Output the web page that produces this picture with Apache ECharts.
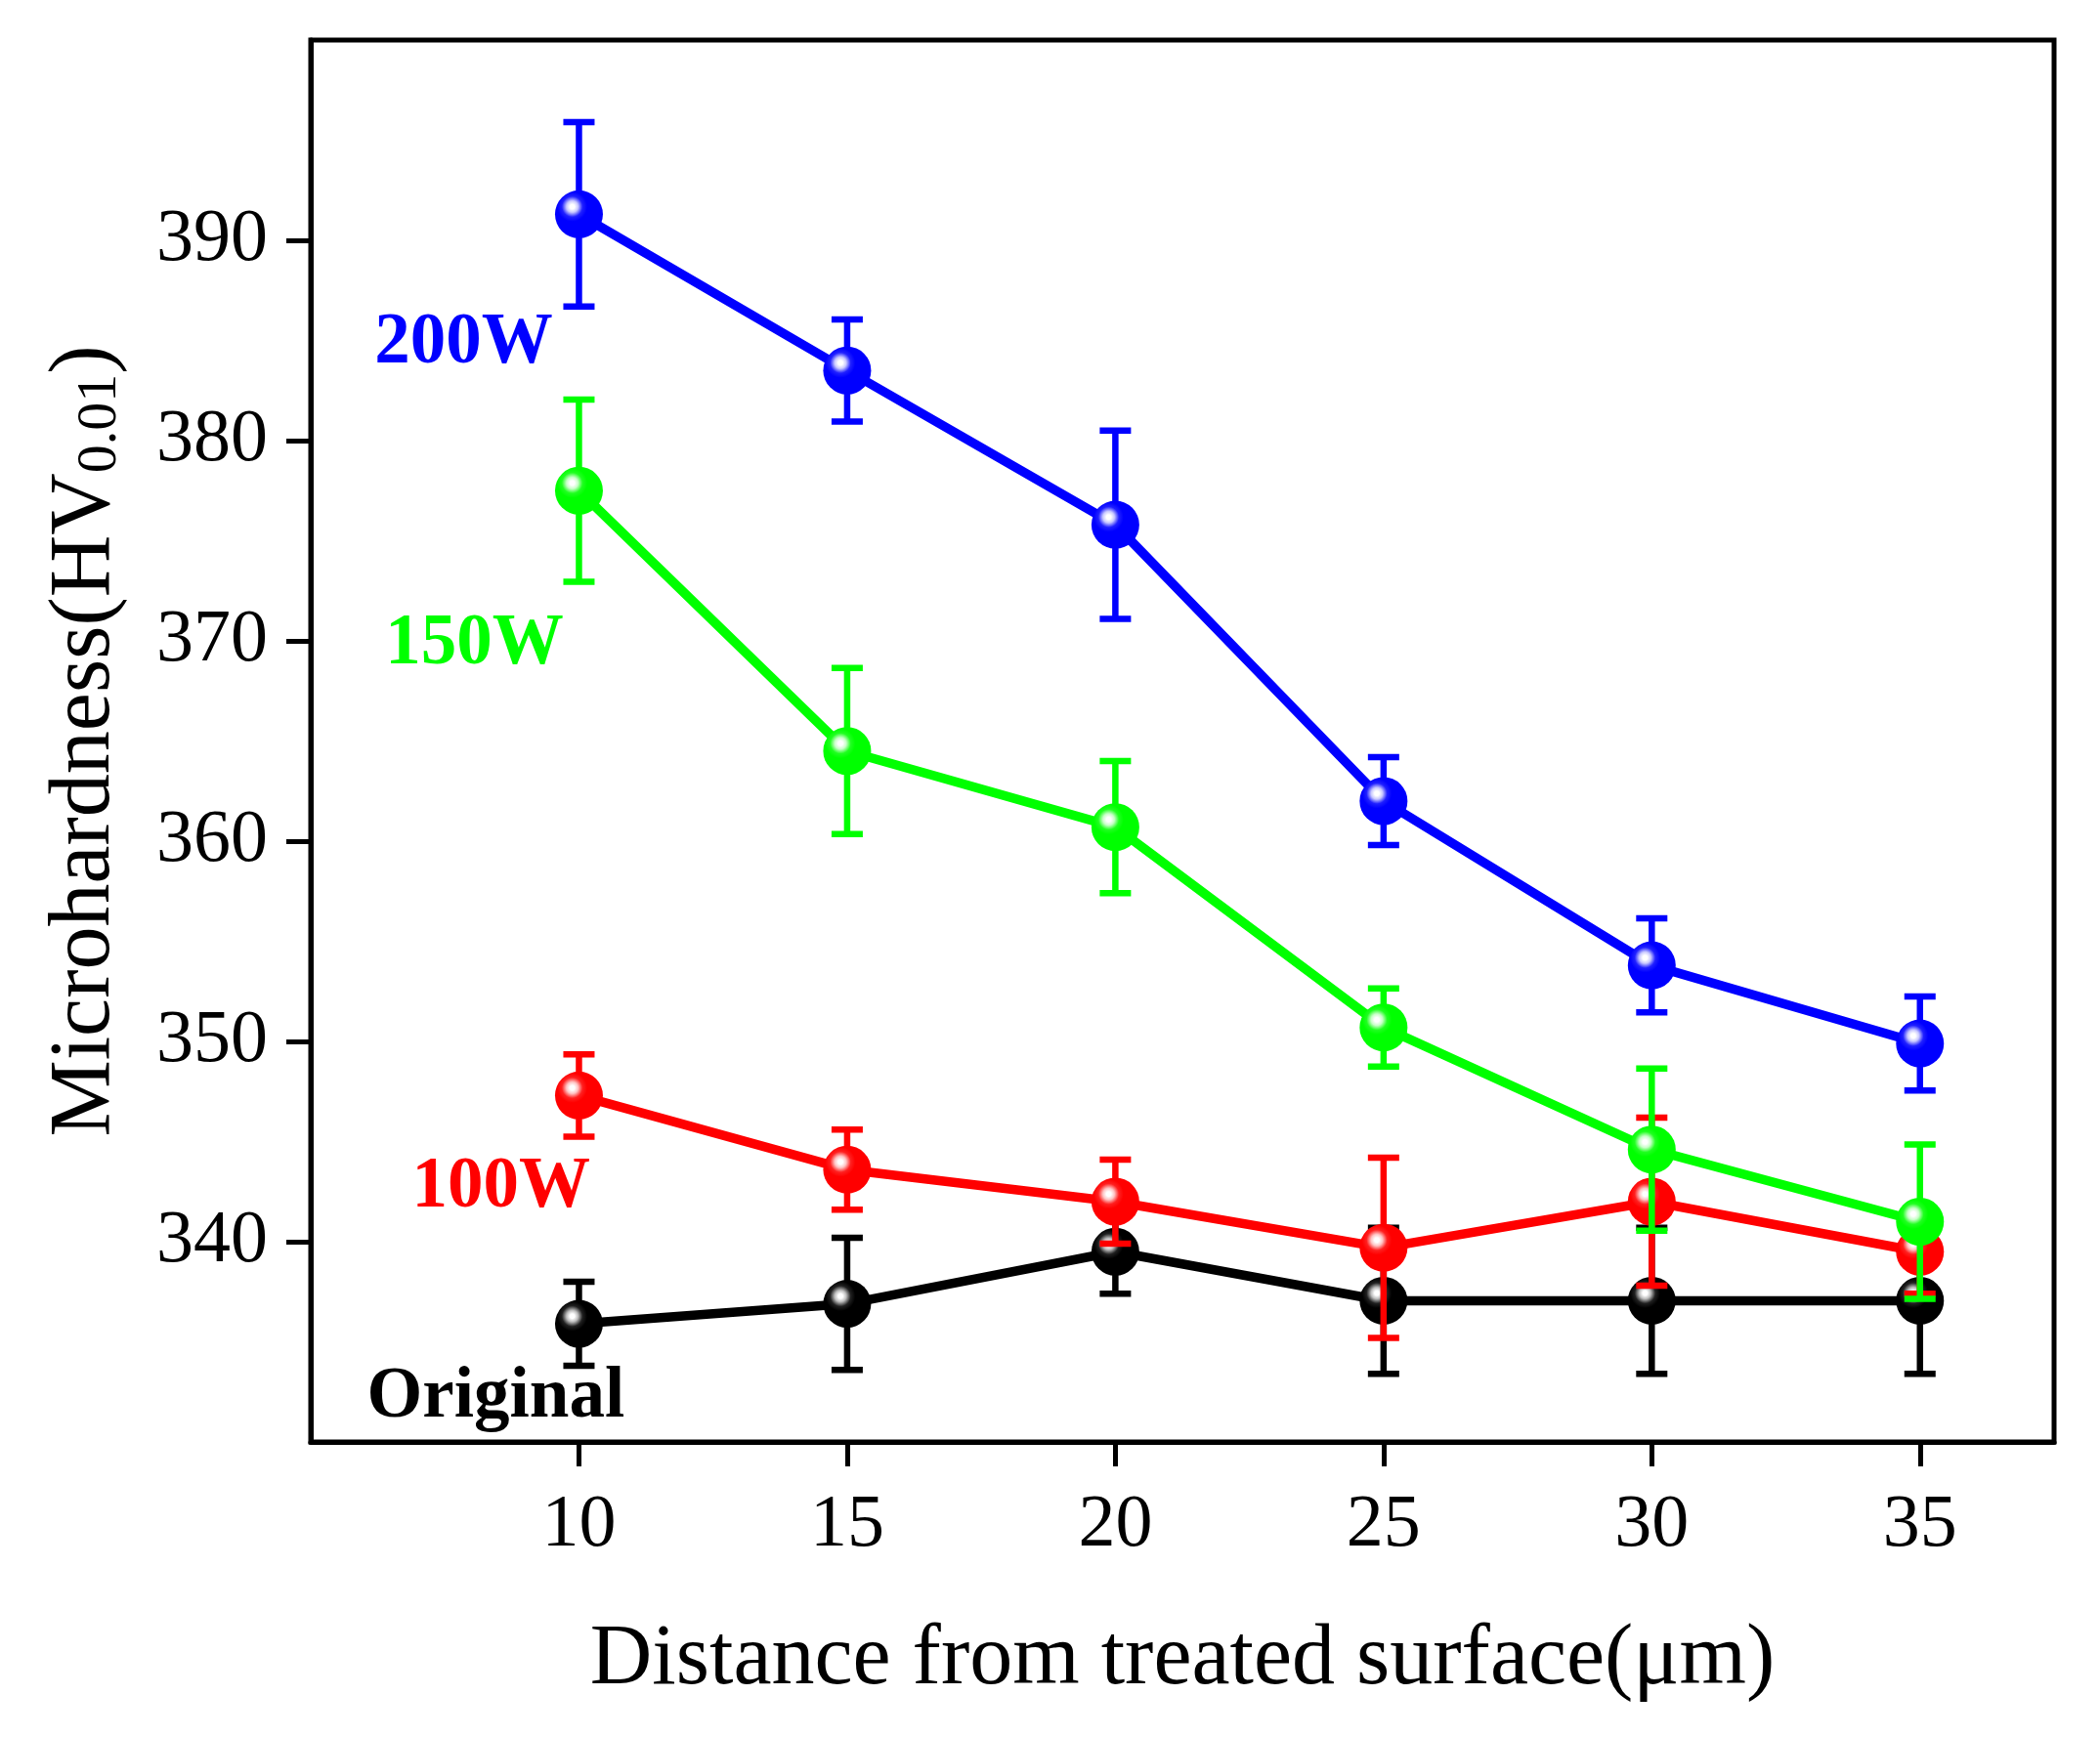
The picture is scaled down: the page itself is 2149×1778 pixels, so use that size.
<!DOCTYPE html>
<html><head><meta charset="utf-8">
<script src="https://cdn.jsdelivr.net/npm/echarts@6/dist/echarts.min.js"></script>
<style>html,body{margin:0;padding:0;background:#fff}#c{width:2149px;height:1778px}</style>
</head><body><div id="c"></div>
<script>
const distances = [10, 15, 20, 25, 30, 35];
const original = [335.9, 336.9, 339.5, 337.05, 337.05, 337.05];
const originalErr = [2.1, 3.3, 2.1, 3.65, 3.65, 3.65];
const w100 = [347.3, 343.6, 342.0, 339.7, 342.0, 339.5];
const w100Err = [2.05, 2.0, 2.1, 4.5, 4.2, 2.1];
const w150 = [377.5, 364.5, 360.7, 350.7, 344.6, 341.0];
const w150Err = [4.55, 4.15, 3.3, 1.95, 4.05, 3.85];
const w200 = [391.3, 383.5, 375.8, 362.0, 353.8, 349.9];
const w200Err = [4.6, 2.55, 4.7, 2.2, 2.35, 2.35];
const xTicks = [10, 15, 20, 25, 30, 35];
const yTicks = [340, 350, 360, 370, 380, 390];
const seriesNames = ['Original', '100W', '150W', '200W'];
const labelPos = [[8.45, 332.2], [8.55, 342.7], [8.05, 369.8], [7.85, 384.8]];

const FONT = 'Liberation Serif';
const styles = [
  {color: '#000000', light: '#bdbdbd', mid: '#202020'},
  {color: '#ff0000', light: '#ffc4c4', mid: '#ff2020'},
  {color: '#00ff00', light: '#c8ffc8', mid: '#20ff20'},
  {color: '#0000ff', light: '#c8c8ff', mid: '#2020ff'}
];
const values = [original, w100, w150, w200];
const errs = [originalErr, w100Err, w150Err, w200Err];

function grad(s) {
  return {type: 'radial', x: 0.36, y: 0.34, r: 0.6, colorStops: [
    {offset: 0, color: '#ffffff'},
    {offset: 0.08, color: '#ffffff'},
    {offset: 0.2, color: s.light},
    {offset: 0.36, color: s.mid},
    {offset: 0.52, color: s.color},
    {offset: 1, color: s.color}
  ]};
}

function errSeries(vals, e, color, z) {
  return {
    type: 'custom', z: z, silent: true,
    data: vals.map((v, i) => [distances[i], v - e[i], v + e[i]]),
    encode: {x: 0, y: [1, 2]},
    renderItem: function (params, api) {
      const x = api.value(0);
      const lo = api.coord([x, api.value(1)]);
      const hi = api.coord([x, api.value(2)]);
      const hw = 16, lw = 6.5;
      return {type: 'group', children: [
        {type: 'line', shape: {x1: lo[0], y1: lo[1], x2: hi[0], y2: hi[1]}, style: {stroke: color, lineWidth: lw}},
        {type: 'line', shape: {x1: lo[0] - hw, y1: lo[1], x2: lo[0] + hw, y2: lo[1]}, style: {stroke: color, lineWidth: lw}},
        {type: 'line', shape: {x1: hi[0] - hw, y1: hi[1], x2: hi[0] + hw, y2: hi[1]}, style: {stroke: color, lineWidth: lw}}
      ]};
    }
  };
}

const series = [];
values.forEach((vals, k) => {
  const s = styles[k];
  series.push(errSeries(vals, errs[k], s.color, 2 + k * 2));
  series.push({
    type: 'line', name: seriesNames[k], z: 3 + k * 2,
    data: vals.map((v, i) => [distances[i], v]),
    symbol: 'circle', symbolSize: 49, showSymbol: true,
    lineStyle: {color: s.color, width: 9.5},
    itemStyle: {color: grad(s), borderWidth: 0},
    emphasis: {disabled: true},
    markPoint: {
      symbol: 'circle', symbolSize: 1, silent: true,
      itemStyle: {color: 'rgba(0,0,0,0)'},
      data: [{coord: labelPos[k], name: seriesNames[k]}],
      label: {show: true, position: 'inside', formatter: seriesNames[k], color: s.color,
        fontFamily: FONT, fontWeight: 'bold', fontSize: 73}
    }
  });
});

const chart = echarts.init(document.getElementById('c'), null, {renderer: 'canvas'});
chart.setOption({
  animation: false,
  backgroundColor: '#ffffff',
  grid: {left: 318, right: 47, top: 41, bottom: 302, containLabel: false, outerBoundsMode: 'none',
    show: true, borderColor: '#000', borderWidth: 5, backgroundColor: 'transparent'},
  xAxis: {
    type: 'value', min: 5, max: 37.5,
    name: 'Distance from treated surface(μm)', nameLocation: 'middle', nameGap: 180,
    nameTextStyle: {fontFamily: FONT, fontSize: 88, color: '#000'},
    axisLine: {show: true, lineStyle: {color: '#000', width: 5}},
    axisTick: {show: true, length: 25, lineStyle: {width: 5, color: '#000'}, customValues: xTicks},
    axisLabel: {fontFamily: FONT, fontSize: 76, color: '#000', margin: 48, customValues: xTicks},
    splitLine: {show: false}
  },
  yAxis: {
    type: 'value', min: 330, max: 400,
    name: '{a|Microhardness(HV}{s|0.01}{a|)}', nameLocation: 'middle', nameGap: 186,
    nameTextStyle: {fontFamily: FONT, color: '#000',
      rich: {
        a: {fontFamily: FONT, fontSize: 88, color: '#000', lineHeight: 100, verticalAlign: 'bottom'},
        s: {fontFamily: FONT, fontSize: 58, color: '#000', lineHeight: 60, verticalAlign: 'bottom'}
      }},
    axisLine: {show: true, lineStyle: {color: '#000', width: 5}},
    axisTick: {show: true, length: 25, lineStyle: {width: 5, color: '#000'}, customValues: yTicks},
    axisLabel: {fontFamily: FONT, fontSize: 76, color: '#000', margin: 44, customValues: yTicks},
    splitLine: {show: false}
  },
  series: series
});
</script>
</body></html>
